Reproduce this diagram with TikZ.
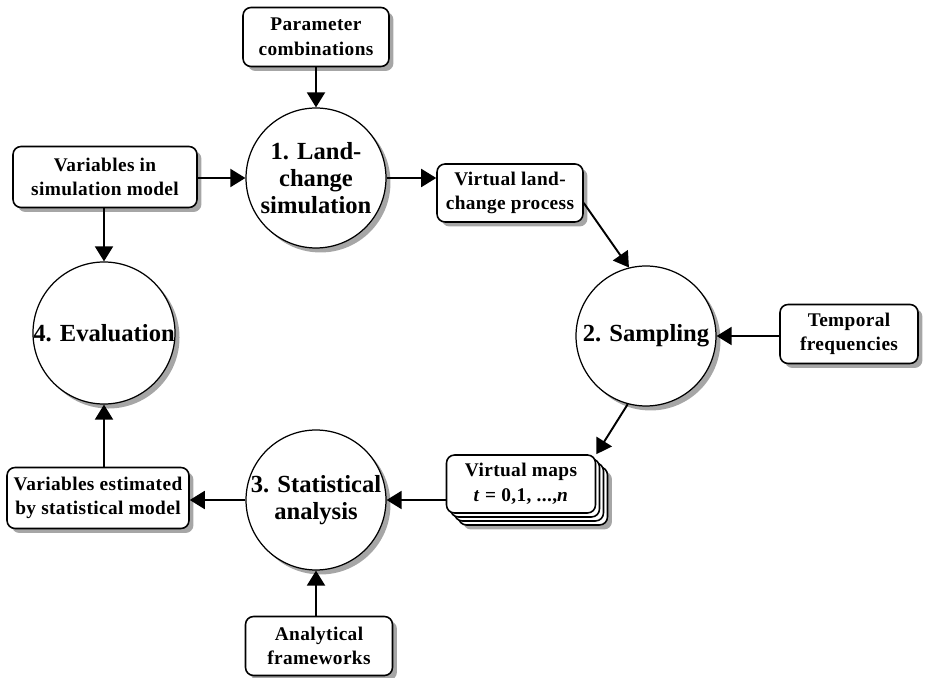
\documentclass[tikz,border=0pt]{standalone}
\usepackage{fontspec}
\setmainfont{Liberation Serif}
\newfontfamily\boxfont[LetterSpace=2]{Liberation Serif}
\usetikzlibrary{arrows.meta,shadows}
\begin{document}
\begin{tikzpicture}[x=0.02cm,y=-0.02cm,
	shade/.style={drop shadow={shadow xshift=0.09cm,shadow yshift=-0.09cm,fill=gray!70,opacity=1}},
	stage/.style={circle,draw,line width=0.7pt,fill=white,minimum size=2.8cm,inner sep=0pt,align=center,font=\fontsize{14}{15.5}\selectfont\bfseries,shade},
	infobox/.style={draw,line width=0.9pt,rounded corners=0.16cm,fill=white,align=center,inner sep=0pt,font=\boxfont\fontsize{11}{14}\selectfont\bfseries},
	flow/.style={line width=1.1pt,-{Triangle[length=0.3cm,width=0.36cm]}}]
		\useasboundingbox (0,0) rectangle (926,678);
		%circles
		\node[stage] (c1) at (316,178) {1. Land-\\change\\simulation};
		\node[stage] (c2) at (646,336) {2. Sampling};
		\node[stage] (c3) at (316,500) {3. Statistical\\analysis};
		\node[stage] (c4) at (104,333) {4. Evaluation};
		%boxes
		\node[infobox,shade,minimum width=2.92cm,minimum height=1.18cm] (param) at (316,37) {Parameter\\combinations};
		\node[infobox,shade,minimum width=3.68cm,minimum height=1.22cm] (varsim) at (105,177) {Variables in\\simulation model};
		\node[infobox,shade,minimum width=2.92cm,minimum height=1.16cm] (vland) at (510,193) {Virtual land-\\change process};
		\node[infobox,shade,minimum width=2.76cm,minimum height=1.18cm] (temporal) at (849,334) {Temporal\\frequencies};
		\node[infobox,shade,minimum width=3.64cm,minimum height=1.22cm] (varest) at (98,498) {Variables estimated\\by statistical model};
		\node[infobox,shade,minimum width=2.94cm,minimum height=1.18cm] (analytic) at (319,646) {Analytical\\frameworks};
		%stack of maps
		\node[infobox,shade,minimum width=2.98cm,minimum height=1.16cm] (vmapsC) at (533,496) {};
		\node[infobox,minimum width=2.98cm,minimum height=1.16cm] (vmapsB) at (529,492) {};
		\node[infobox,minimum width=2.98cm,minimum height=1.16cm] (vmapsA) at (525,488) {};
		\node[infobox,minimum width=2.98cm,minimum height=1.16cm] (vmaps) at (521,484) {Virtual maps\\\textit{t} = 0,1, ...,\textit{n}};
		% arrows
		\draw[flow] (param) -- (c1);
		\draw[flow] (varsim.east |- c1) -- (c1);
		\draw[flow] (c1) -- (c1 -| vland.west);
		\draw[flow] ([yshift=-0.2cm]vland.east) -- (c2.104);
		\draw[flow] (temporal.west |- c2) -- (c2);
		\draw[flow] (c2.255) -- (vmaps.north east);
		\draw[flow] (vmaps.west |- c3) -- (c3);
		\draw[flow] (c3) -- (c3 -| varest.east);
		\draw[flow] (c4 |- varest.north) -- (c4);
		\draw[flow] (c4 |- varsim.south) -- (c4);
		\draw[flow] (c3 |- analytic.north) -- (c3);
	\end{tikzpicture}
\end{document}
